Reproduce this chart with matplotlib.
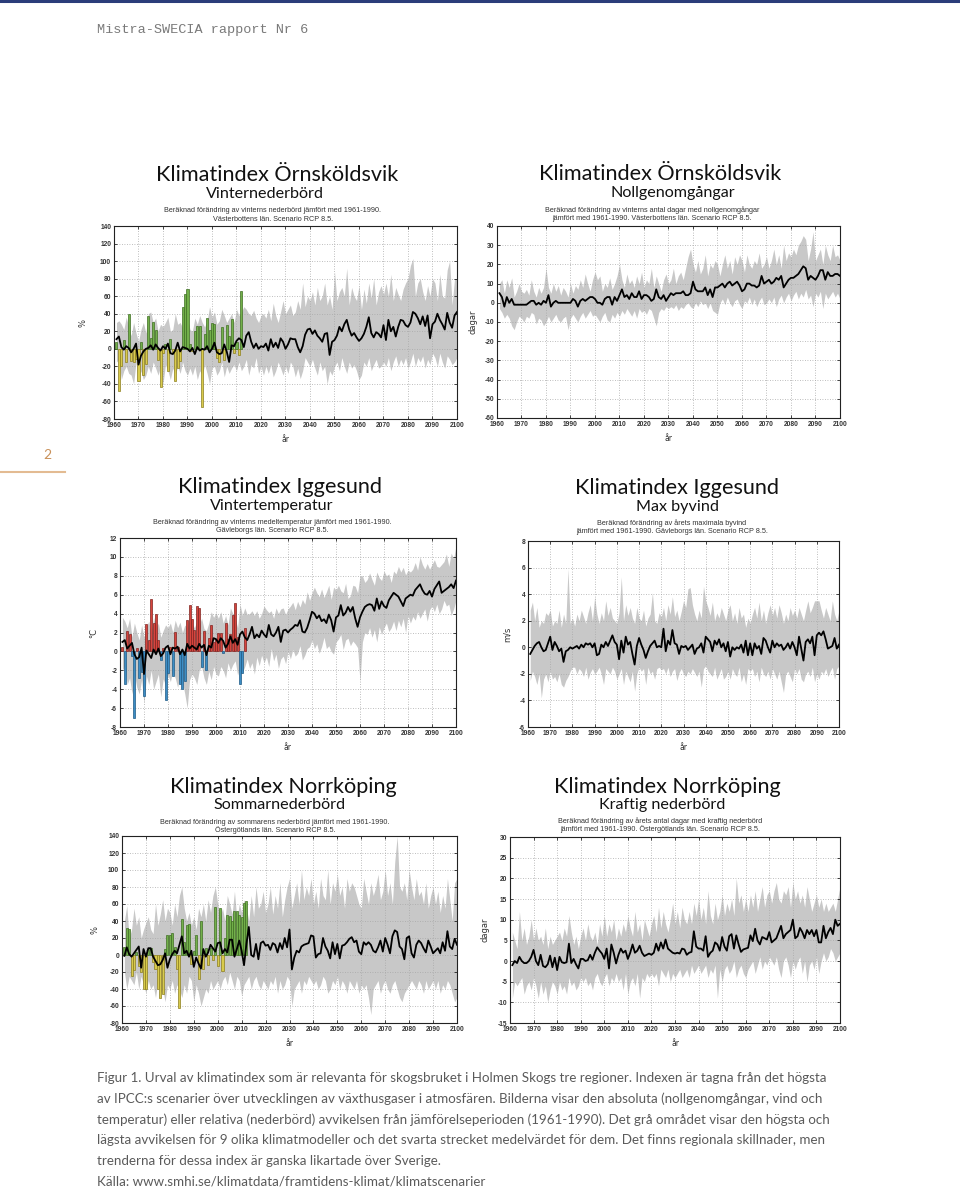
import numpy as np
import matplotlib
matplotlib.use("Agg")
import matplotlib.pyplot as plt

W, H = 960, 1190

# ---------------- DATA ----------------
years = list(range(1961, 2101))
obs_years = list(range(1961, 2013))
xticks = list(range(1960, 2101, 10))

# 1) Örnsköldsvik – Vinternederbörd (%)
orn_prec_mean = [11, 14, 2, -1, 3, 1, -4, 0, 6, -18,
                 -8, -3, 0, 1, 4, -1, 5, 1, -2, 3,
                 0, 6, -5, -6, -2, 7, -3, 2, 1, 0,
                 -3, 1, -6, 2, -2, 0, -1, 3, -4, 0,
                 7, -4, -6, -5, 5, -3, -15, 4, 3, 9,
                 12, 10, 2, 15, 19, 8, 1, 6, 0, 3,
                 2, 6, -2, 11, 2, 7, 1, 12, 8, 0,
                 5, 12, 11, 11, 2, -4, 3, 16, 22, 23,
                 17, 21, 15, 12, 8, 17, 18, -7, 8, 10,
                 15, 25, 20, 28, 33, 22, 15, 18, 13, 9,
                 12, 17, 25, 36, 18, 13, 19, 17, 13, 27,
                 10, 33, 20, 25, 14, 25, 33, 32, 27, 25,
                 30, 42, 40, 35, 28, 37, 26, 38, 12, 28,
                 31, 40, 33, 28, 22, 41, 30, 24, 38, 42]
orn_prec_max = [30, 32, 28, 22, 36, 25, 15, 30, 18, 8,
                22, 30, 18, 40, 42, 30, 35, 20, 28, 25,
                30, 36, 20, 22, 40, 28, 30, 24, 18, 35,
                22, 20, 35, 28, 38, 30, 25, 32, 48, 36,
                42, 28, 32, 45, 38, 30, 35, 40, 30, 45,
                38, 42, 48, 45, 40, 38, 44, 35, 30, 38,
                40, 35, 45, 32, 52, 38, 30, 42, 55, 40,
                45, 50, 38, 42, 55, 45, 75, 48, 60, 55,
                65, 50, 70, 55, 60, 75, 50, 60, 45, 88,
                55, 65, 70, 60, 92, 50, 70, 60, 55, 72,
                45, 68, 52, 75, 58, 80, 50, 65, 72, 62,
                75, 60, 85, 55, 70, 62, 55, 68, 75, 80,
                95, 103, 60, 75, 80, 65, 55, 72, 60, 80,
                75, 55, 85, 60, 58, 90, 100, 50, 80, 80]
orn_prec_min = [-15, -12, -35, -25, -20, -28, -30, -40, -15, -38,
                -25, -35, -30, -20, -28, -15, -22, -30, -20, -40,
                -18, -25, -35, -22, -30, -20, -28, -15, -25, -30,
                -22, -30, -20, -35, -25, -30, -18, -28, -40, -22,
                -20, -30, -25, -15, -32, -20, -28, -22, -18, -25,
                -15, -25, -20, -12, -30, -18, -22, -10, -28, -20,
                -30, -20, -28, -18, -32, -25, -15, -22, -30, -20,
                -28, -15, -20, -32, -22, -34, -25, -10, -15, -20,
                -12, -22, -30, -15, -25, -20, -40, -25, -30, -20,
                -15, -25, -10, -20, -28, -15, -22, -18, -25, -35,
                -30, -15, -20, -10, -25, -18, -12, -22, -20, -15,
                -20, -10, -25, -15, -8, -20, -12, -18, -10, -22,
                -15, -5, -20, -10, -15, -8, -22, -12, -18, -5,
                -10, -20, -5, -15, -22, -8, -12, -18, -15, -10]
orn_prec_obs = [8, -48, -20, 10, -15, 40, -14, -15, -12, -37,
                8, -30, -17, 37, 12, 31, 21, -13, -43, -5,
                5, -25, 11, -5, -37, -22, -14, 48, 62, 68,
                5, -3, 20, 26, 26, -66, 17, 35, 22, 30,
                28, -10, -15, 25, -13, 27, 15, 34, -5, 8,
                -7, 66]

# 2) Örnsköldsvik – Nollgenomgångar (dagar)
orn_zero_mean = [5, 3, -2, 3, 0, 2, -1, -1, -1, -1,
                 -1, -1, 0, 1, 1, -1, 0, -1, 1, 0,
                 4, -2, 0, 1, 0, 0, 0, 0, 0, 0,
                 2, 1, -2, 1, 2, 1, 2, 3, 3, 2,
                 0, 0, -1, 2, 3, 3, -1, 3, 1, 4,
                 7, 3, 4, 2, 5, 3, 3, 6, 2, 4,
                 4, 3, 1, 2, 7, 3, 2, 4, 1, 3,
                 5, 4, 5, 5, 5, 6, 4, 4, 5, 11,
                 7, 6, 6, 6, 8, 4, 7, 3, 8, 8,
                 9, 10, 8, 10, 11, 9, 10, 11, 9, 6,
                 7, 10, 10, 9, 9, 8, 9, 14, 10, 11,
                 12, 10, 11, 13, 12, 14, 8, 10, 12, 13,
                 13, 14, 15, 17, 19, 18, 12, 14, 13, 12,
                 14, 17, 17, 12, 16, 14, 14, 15, 15, 14]
orn_zero_max = [10, 12, 5, 12, 8, 13, 3, 6, 10, 6,
                5, 7, 4, 12, 6, 3, 8, 5, 8, 18,
                8, 5, 10, 6, 9, 4, 8, 6, 3, 10,
                5, 9, 7, 12, 8, 15, 10, 6, 12, 16,
                12, 14, 6, 10, 8, 13, 7, 10, 14, 20,
                12, 8, 15, 10, 12, 8, 14, 10, 16, 8,
                12, 10, 18, 8, 14, 10, 6, 12, 15, 10,
                12, 18, 10, 14, 16, 12, 18, 24, 28, 20,
                16, 22, 15, 18, 25, 14, 20, 18, 22, 20,
                14, 20, 25, 18, 22, 15, 24, 20, 25, 22,
                16, 25, 20, 18, 22, 20, 26, 18, 20, 24,
                18, 22, 28, 20, 25, 18, 30, 22, 26, 24,
                28, 25, 30, 32, 35, 33, 22, 28, 37, 22,
                25, 28, 20, 30, 25, 22, 30, 24, 25, 22]
orn_zero_min = [-3, -5, -8, -6, -8, -12, -14, -10, -7, -8,
                -10, -7, -8, -5, -6, -11, -8, -9, -12, -10,
                -7, -10, -8, -6, -9, -10, -8, -7, -14, -8,
                -6, -8, -10, -7, -5, -8, -6, -4, -7, -6,
                -8, -10, -7, -5, -9, -10, -6, -8, -5, -7,
                -4, -6, -3, -5, -7, -4, -8, -3, -5, -4,
                -6, -3, -4, -8, -12, -5, -3, -4, -2, -3,
                -2, -3, -1, -4, -2, -3, -1, 0, -2, -3,
                0, -2, 1, -1, 0, -3, 0, -4, -5, -6,
                0, 2, -1, 3, 0, -2, 1, 2, -1, -3,
                1, 0, 3, -1, 2, -2, 1, 3, -1, 0,
                2, 0, 3, -2, 2, 4, 0, 3, 5, 1,
                4, 6, 2, 5, 3, 7, 2, 4, -2, 5,
                3, 6, -3, 5, 2, 4, 6, 3, 5, 2]

# 3) Iggesund – Vintertemperatur (°C)
igg_temp_mean = [1.0, 1.2, 0.3, 0.6, 0.9, -0.3, -0.8, -0.6, 0.4, -2.4,
                 0.1, -0.3, -0.7, 0.2, -0.3, 0.3, -0.5, -0.2, 0.4, 0.6,
                 -0.3, 0.4, 0.3, 0.5, -0.3, 0.2, -0.4, 0.8, 0.3, 0.6,
                 0.4, 0.2, 0.8, 0.4, 0.7, -0.4, 0.6, 0.4, 1.4, 1.3,
                 0.9, 1.4, 1.1, 0.4, 0.8, 1.6, 0.9, 1.3, 0.7, 1.8,
                 2.1, 1.5, 1.2, 1.8, 2.6, 1.4, 1.8, 1.5, 2.2, 1.8,
                 1.5, 2.8, 1.8, 1.6, 2.0, 2.6, 1.0, 2.2, 2.3, 2.0,
                 2.3, 2.5, 2.8, 2.7, 3.3, 2.1, 2.0, 2.5, 3.3, 4.2,
                 4.0, 3.5, 3.8, 3.2, 3.4, 3.0, 3.9, 3.3, 2.1, 3.6,
                 3.8, 4.9, 3.8, 4.1, 4.7, 4.2, 4.7, 3.5, 2.6, 3.6,
                 4.2, 4.7, 4.9, 5.0, 4.9, 4.3, 5.6, 4.5, 5.3, 4.8,
                 4.6, 5.4, 5.8, 6.2, 6.0, 5.8, 5.3, 4.8, 5.6, 5.8,
                 6.0, 5.9, 6.5, 6.8, 7.1, 6.5, 6.1, 6.0, 6.4, 5.8,
                 6.6, 7.0, 7.4, 6.2, 6.4, 6.6, 6.8, 7.1, 6.7, 7.5]
igg_temp_max = [3.6, 3.2, 2.5, 3.5, 1.5, 3.0, 2.0, 1.2, 2.8, 1.5,
                2.6, 3.2, 1.8, 3.6, 2.4, 3.0, 1.5, 2.2, 2.8, 2.5,
                3.0, 2.0, 3.3, 2.5, 3.1, 2.0, 2.8, 2.4, 3.6, 3.0,
                2.5, 3.2, 2.8, 3.5, 2.4, 2.2, 3.0, 4.2, 3.6, 4.1,
                3.5, 4.2, 3.0, 3.8, 2.8, 4.6, 4.0, 3.5, 2.5, 5.0,
                3.8, 4.6, 3.9, 4.0, 4.3, 3.8, 4.3, 3.5, 4.0, 4.8,
                4.4, 4.1, 4.3, 3.5, 4.6, 4.0, 4.5, 4.6, 3.9, 4.5,
                4.8, 5.2, 4.4, 5.3, 4.7, 5.5, 5.0, 6.3, 5.4, 6.2,
                6.8, 6.2, 5.8, 6.6, 5.7, 6.3, 7.0, 5.5, 6.8, 6.5,
                7.0, 6.4, 6.2, 7.2, 5.6, 5.9, 7.0, 6.9, 6.2, 8.0,
                8.0, 7.3, 7.6, 8.3, 7.6, 7.0, 8.4, 7.8, 7.5, 8.5,
                8.0, 8.2, 7.3, 8.5, 8.2, 9.0, 8.4, 8.9, 8.1, 8.6,
                8.4, 8.7, 9.4, 8.6, 10.0, 9.2, 8.7, 9.3, 8.7, 9.2,
                9.7, 9.0, 8.9, 9.2, 9.5, 10.3, 9.0, 10.4, 9.8, 11.2]
igg_temp_min = [-2.0, -1.5, -3.5, -2.8, -4.5, -2.4, -3.8, -4.5, -3.0, -5.5,
                -2.6, -3.5, -2.0, -4.0, -3.2, -2.4, -4.8, -2.9, -3.6, -2.5,
                -3.2, -2.0, -2.8, -3.8, -2.5, -3.2, -4.5, -6.0, -3.0, -2.4,
                -2.8, -3.5, -2.0, -1.6, -2.8, -3.5, -2.1, -3.0, -1.6, -2.4,
                -2.6, -1.6, -2.0, -2.8, -1.2, -2.0, -1.4, -1.0, -2.5, -1.7,
                -2.2, -1.6, -0.8, -1.8, -1.2, -2.4, -0.6, -1.5, -0.4, -1.2,
                -0.6, -1.6, 0.3, -1.0, -0.3, -1.8, -0.8, -0.5, -1.3, 0.0,
                -0.8, 0.2, -0.5, -0.2, 0.6, -0.9, -0.4, 0.3, 0.5, 1.2,
                0.3, 0.8, -0.2, 0.5, 1.5, 0.3, 0.6, 0.0, -0.3, 1.0,
                1.3, 1.8, 0.2, 1.2, 1.4, 0.6, 1.1, 0.8, 0.4, -3.2,
                1.0, 2.0, 1.8, 2.5, 1.5, 2.3, 1.0, 2.6, 1.8, 2.5,
                3.0, 2.1, 2.5, 3.2, 2.2, 3.3, 2.6, 3.5, 2.0, 3.8,
                3.0, 3.7, 3.3, 4.2, 3.5, 4.0, 4.5, 3.2, 4.4, 4.8,
                4.2, 5.0, 4.0, 4.5, 5.4, 4.8, 5.0, 3.8, 4.5, 5.4]
igg_temp_obs = [0.5, -3.4, 2.2, 1.8, -0.5, -7.0, 0.4, -2.8, -2.2, -4.7,
                2.9, 1.2, 5.5, 3.0, 4.0, 1.2, -0.9, 0.4, -5.1, -2.3,
                0.5, -2.6, 2.1, 0.5, -3.4, -4.0, -3.1, 3.3, 4.9, 3.4,
                2.3, 4.8, 4.6, -1.7, 2.2, -2.0, 1.4, 2.8, 1.0, 1.3,
                2.0, 1.9, -0.2, 3.0, 1.3, 1.8, 3.8, 5.1, 1.5, -3.4,
                -2.3, 2.5]

# 4) Iggesund – Max byvind (m/s)
igg_wind_mean = [-0.5, -0.2, 0.1, 0.3, 0.4, 0.0, -0.3, -0.2, 0.3, 0.8,
                 -0.2, 0.4, 0.1, -0.3, -0.1, -1.1, -0.3, -0.2, 0.0, -0.1,
                 0.0, 0.1, -0.1, 0.2, 0.0, 0.3, 0.2, 0.3, 0.0, 0.3,
                 -0.6, -0.5, 0.2, 0.0, 0.4, 0.1, 0.5, 0.9, 0.4, 0.2,
                 -0.9, 0.5, -0.4, 0.8, 0.2, 0.4, -0.5, -1.3, 0.1, 0.7,
                 0.2, -0.2, -0.8, -0.3, 0.1, 0.3, 0.5, 0.0, 0.1, 0.0,
                 1.4, -0.3, 0.5, 0.2, 1.3, 0.3, 0.2, -0.5, 0.1, 0.0,
                 0.1, -0.2, 0.0, 0.2, -0.5, -0.1, 0.0, 0.3, -0.4, 0.8,
                 0.6, 0.4, -0.3, 0.5, 0.2, 0.6, 0.0, 0.3, -0.3, 0.4,
                 -0.7, 0.0, -0.2, 0.0, -0.1, 0.2, -0.4, 0.5, -0.6, 0.3,
                 -0.6, 0.3, -0.1, 0.1, -0.5, 0.7, 0.5, 0.0, -0.4, 0.5,
                 0.0, 0.3, 0.1, 0.2, -0.2, 0.0, 0.3, -0.1, 0.4, 0.0,
                 -0.6, 0.8, -0.1, -1.0, 0.4, 0.6, 0.3, 0.8, -0.6, 0.9,
                 1.1, 0.9, 1.2, 0.6, -0.1, 0.0, 0.1, 0.7, -0.1, 0.2]
igg_wind_max = [2.8, 3.4, 2.0, 3.0, 1.5, 2.0, 1.8, 2.6, 2.4, 2.8,
                1.6, 2.0, 1.8, 2.8, 1.5, 2.5, 1.8, 5.9, 1.8, 2.2,
                1.6, 2.5, 2.0, 2.8, 2.3, 1.8, 2.6, 3.2, 2.0, 3.8,
                2.5, 1.8, 2.6, 2.0, 3.5, 2.4, 3.0, 2.2, 2.0, 1.8,
                2.6, 5.3, 2.0, 3.2, 2.4, 3.0, 2.2, 1.8, 3.0, 2.2,
                2.0, 2.8, 1.6, 2.2, 2.5, 4.1, 2.0, 1.8, 2.6, 2.3,
                3.0, 2.0, 3.2, 2.5, 3.8, 2.3, 2.8, 2.0, 2.7, 3.5,
                3.0, 4.4, 4.5, 3.2, 2.5, 2.0, 2.8, 2.2, 4.6, 3.5,
                3.0, 2.4, 3.4, 2.0, 2.6, 2.2, 3.0, 2.5, 2.0, 2.8,
                3.2, 2.0, 2.6, 1.8, 3.0, 2.2, 2.5, 1.5, 2.2, 1.8,
                2.5, 3.0, 2.2, 3.4, 2.0, 2.8, 1.8, 2.6, 3.2, 2.4,
                3.0, 2.2, 3.2, 2.6, 1.8, 2.5, 2.0, 3.0, 2.4, 2.8,
                2.2, 3.0, 2.5, 2.0, 2.8, 3.5, 2.6, 3.0, 3.5, 3.5,
                3.5, 2.8, 2.2, 3.0, 2.5, 2.0, 3.5, 2.5, 2.0, 2.8]
igg_wind_min = [-2.5, -1.8, -2.2, -2.8, -2.0, -3.8, -2.4, -2.0, -2.6, -1.8,
                -2.4, -2.2, -2.6, -2.0, -2.8, -3.0, -2.5, -2.2, -1.8, -1.5,
                -1.5, -2.0, -1.6, -1.8, -2.2, -1.5, -2.4, -1.9, -1.6, -2.0,
                -1.8, -1.5, -2.0, -2.8, -1.6, -1.8, -2.0, -1.5, -1.8, -2.4,
                -2.0, -1.6, -2.8, -1.8, -2.2, -2.6, -1.8, -3.3, -2.0, -1.5,
                -1.8, -1.6, -2.8, -1.5, -2.0, -1.8, -2.4, -1.6, -1.5, -1.7,
                -1.6, -2.0, -1.5, -2.2, -1.8, -1.6, -2.5, -1.9, -1.6, -2.0,
                -2.2, -1.8, -2.0, -1.6, -1.9, -2.2, -1.8, -3.0, -1.6, -1.4,
                -1.8, -2.0, -2.2, -1.5, -2.4, -2.0, -1.6, -2.4, -2.2, -1.8,
                -2.4, -1.6, -2.0, -2.2, -1.5, -2.6, -2.0, -2.8, -1.6, -1.8,
                -1.6, -2.2, -1.8, -2.6, -1.5, -2.0, -2.2, -1.8, -2.4, -1.6,
                -2.0, -2.4, -1.8, -2.6, -3.4, -2.0, -1.8, -2.2, -2.6, -1.6,
                -2.0, -1.6, -2.4, -2.6, -2.0, -1.8, -2.2, -1.5, -2.6, -2.0,
                -2.4, -1.8, -2.0, -1.6, -2.2, -1.8, -1.5, -2.4, -1.6, -1.4]

# 5) Norrköping – Sommarnederbörd (%)
nor_prec_mean = [-1, 9, 1, -2, 2, 6, 10, -15, 7, -2,
                 8, 8, -2, -7, -12, -11, -6, 2, -15, -5,
                 1, 5, 2, 12, 22, 2, 5, -2, 5, -14,
                 -3, -10, -16, 7, -2, 3, 12, 8, 4, 14,
                 15, 2, 7, 3, 18, 18, -2, 7, 17, 5,
                 -12, 13, 33, 0, -2, 13, -5, 14, 16, 11,
                 12, 6, 14, 12, 3, 14, 7, 20, 9, 30,
                 -17, -3, 5, 3, 10, 12, 13, 14, 23, 22,
                 -3, 1, 2, 20, 10, 5, -4, 15, 1, 13,
                 -4, 11, 12, 15, 19, 21, 15, 17, 4, 1,
                 15, 12, 15, 12, 5, 3, 9, 17, 4, 20,
                 12, 2, 22, 29, 27, 10, 7, -5, 20, 22,
                 2, -3, 12, 17, 14, 8, 3, 17, 10, 2,
                 5, 8, 2, 15, 5, 28, 10, 7, 19, 12]
nor_prec_max = [40, 58, 20, 30, 55, 35, 45, 20, 30, 38,
                45, 30, 25, 60, 35, 48, 65, 40, 55, 50,
                35, 60, 45, 70, 80, 55, 40, 50, 35, 45,
                30, 55, 45, 60, 40, 65, 50, 70, 80, 60,
                45, 55, 40, 70, 60, 48, 75, 42, 60, 50,
                65, 55, 40, 70, 45, 80, 55, 60, 75, 50,
                60, 80, 48, 70, 55, 85, 45, 65, 80, 90,
                55, 70, 85, 60, 100, 65, 80, 70, 90, 60,
                75, 55, 90, 70, 65, 100, 60, 85, 75, 95,
                70, 80, 55, 90, 75, 85, 80, 70, 60, 55,
                90, 75, 60, 85, 70, 80, 95, 65, 75, 100,
                70, 85, 60, 110, 140, 80, 75, 85, 65, 100,
                80, 65, 90, 70, 75, 60, 85, 55, 70, 80,
                60, 75, 50, 70, 55, 90, 65, 40, 85, 90]
nor_prec_min = [-20, -40, -25, -30, -35, -20, -40, -25, -35, -45,
                -30, -40, -35, -50, -30, -45, -40, -55, -35, -40,
                -30, -45, -35, -40, -50, -35, -45, -25, -30, -55,
                -35, -45, -60, -50, -40, -45, -30, -40, -35, -30,
                -40, -30, -25, -35, -20, -30, -40, -25, -30, -48,
                -35, -30, -25, -40, -30, -25, -35, -40, -30, -35,
                -40, -30, -35, -25, -45, -30, -40, -35, -25, -30,
                -60, -40, -35, -30, -45, -30, -35, -25, -30, -35,
                -30, -40, -35, -25, -30, -45, -40, -30, -35, -25,
                -40, -30, -35, -45, -30, -35, -40, -30, -45, -35,
                -40, -35, -50, -70, -40, -35, -30, -45, -35, -30,
                -40, -45, -35, -30, -40, -50, -55, -45, -40, -35,
                -30, -35, -40, -30, -35, -45, -30, -40, -35, -30,
                -40, -30, -45, -35, -40, -30, -35, -45, -55, -50]
nor_prec_obs = [10, 32, 31, -25, -18, 3, -13, -20, -40, -40,
                7, 8, -8, -17, -40, -50, -46, 7, 24, 23,
                26, 10, -17, -62, 42, 15, 35, 36, -10, 5,
                23, -28, 40, -16, 8, -12, 8, -6, 56, -13,
                55, -19, 20, 47, 46, 40, 52, 52, 47, 45,
                61, 64]

# 6) Norrköping – Kraftig nederbörd (dagar)
nor_heavy_mean = [-1, 0, -0.5, 1, 0, -0.5, -0.5, 0, 1, 2.7,
                  0, -1, 1.5, -1.2, -1.5, -0.8, 1.3, -1.5, 0.8, -2.2,
                  1.0, -0.3, -0.5, -0.3, 4.2, -0.5, 0.5, -0.8, -1.8, 0.5,
                  0.5, 0, 0.2, 1.5, 0.3, 2.0, 3.3, 2.5, 1.8, 0.5,
                  3.0, -1.8, 4.0, 2.0, -0.6, 1.5, 3.0, 2.0, 2.5, 0.5,
                  2.0, 4.0, 2.0, 2.5, 3.7, 2.0, 1.2, 1.5, 1.8, 1.5,
                  2.0, 4.2, 2.5, 4.5, 3.0, 5.2, 3.0, 2.5, 2.0, 1.8,
                  2.0, 1.8, 3.0, 2.8, 1.5, 2.0, 2.2, 7.2, 3.5, 3.0,
                  3.0, 2.5, 6.0, 1.0, 2.0, 2.5, 4.5, 4.0, 2.5, 5.8,
                  3.5, 2.5, 6.0, 6.5, 3.0, 6.2, 4.0, 2.2, 2.8, 3.0,
                  3.2, 6.2, 4.8, 7.8, 5.0, 4.0, 5.8, 5.5, 5.2, 7.0,
                  4.5, 5.0, 5.5, 7.0, 8.5, 5.5, 6.5, 7.0, 7.5, 10.0,
                  5.5, 6.0, 8.0, 7.0, 5.5, 7.5, 6.5, 7.5, 6.0, 7.5,
                  4.5, 4.5, 8.5, 5.5, 7.0, 8.0, 6.5, 10.0, 8.5, 9.0]
nor_heavy_max = [7, 5, 3, 12, 5, 8, 4, 6, 10, 5,
                 8, 5, 6, 4, 8, 3, 6, 4, 5, 6,
                 7, 5, 8, 6, 11, 7, 4, 6, 3, 6,
                 8, 5, 9, 6, 5, 7, 4, 9, 6, 11,
                 6, 9, 7, 10, 5, 8, 6, 9, 7, 11,
                 8, 6, 12, 7, 9, 5, 10, 8, 6, 9,
                 11, 7, 13, 8, 12, 9, 7, 10, 14, 9,
                 12, 8, 13, 10, 9, 12, 9, 14, 11, 15,
                 10, 13, 9, 17, 11, 9, 14, 10, 12, 16,
                 11, 14, 12, 15, 11, 20, 14, 16, 12, 15,
                 12, 16, 13, 17, 12, 15, 18, 13, 16, 17,
                 14, 17, 19, 15, 14, 17, 16, 18, 13, 19,
                 15, 17, 14, 16, 13, 18, 15, 12, 14, 16,
                 13, 15, 12, 14, 12, 13, 14, 12, 15, 18]
nor_heavy_min = [-9, -5, -6, -5, -4, -8, -6, -5, -7, -4,
                 -6, -9, -5, -8, -6, -10, -7, -5, -6, -8,
                 -5, -7, -6, -8, -4, -6, -5, -7, -6, -4,
                 -5, -4, -6, -5, -7, -4, -3, -5, -6, -4,
                 -3, -6, -4, -5, -3, -5, -4, -7, -3, -8,
                 -5, -4, -6, -3, -9, -4, -5, -3, -4, -3,
                 -4, -3, -6, -2, -3, -4, -2, -5, -3, -4,
                 -3, -2, -4, -3, -2, -4, -1, -3, -2, -1,
                 -3, -2, -1, -4, -2, -3, -1, -9, -2, -5,
                 -2, -1, -3, -2, 0, -4, -2, -1, -3, -4,
                 -2, -1, 0, -3, -1, 1, -2, 0, -1, 1,
                 0, -1, 1, -2, -4, 0, 1, -1, -4, 0,
                 -2, 0, 1, -3, 0, -5, -1, 0, -2, 1,
                 -3, 0, 2, 0, 1, 3, 2, 0, 1, 2]

# ---------------- FIGURE ----------------
fig = plt.figure(figsize=(W / 100, H / 100), dpi=100)
fig.patch.set_facecolor("white")

TITLE_FONT = ["Lato", "DejaVu Sans"]
SMALL_FONT = ["Liberation Sans", "DejaVu Sans"]


def fx(x):
    return x / W


def fy(y):
    return 1 - y / H


def text_px(x, y, s, **kw):
    fig.text(fx(x), fy(y), s, **kw)


def make_chart(box, ylim, ystep, ylabel, ylabel_x, mean, lo, hi, titles,
               obs=None, colors=None):
    l, r, t, b = box
    ax = fig.add_axes([fx(l), fy(b), (r - l) / W, (b - t) / H])
    ax.fill_between(years, lo, hi, color="#c8c8c8", lw=0, zorder=1)
    if obs is not None:
        pos_c, pos_e, neg_c, neg_e = colors
        fc = [pos_c if v >= 0 else neg_c for v in obs]
        ec = [pos_e if v >= 0 else neg_e for v in obs]
        ax.bar(obs_years, obs, width=0.85, color=fc, edgecolor=ec,
               linewidth=0.5, zorder=2)
    ax.plot(years, mean, color="black", lw=1.3, zorder=3)
    ax.set_xlim(1960, 2100)
    ax.set_ylim(*ylim)
    ax.set_xticks(xticks)
    yt = np.arange(ylim[0], ylim[1] + ystep / 2, ystep)
    ax.set_yticks(yt)
    ax.set_yticklabels([f"{v:g}" for v in yt])
    ax.grid(True, linestyle=(0, (1, 2)), color="#a8a8a8", lw=0.6)
    for sp in ax.spines.values():
        sp.set_color("#222222")
        sp.set_linewidth(0.8)
    ax.tick_params(axis="both", labelsize=4.8, length=2, width=0.5,
                   direction="in", top=True, right=True, pad=2)
    for lab in ax.get_xticklabels() + ax.get_yticklabels():
        lab.set_fontweight("bold")
        lab.set_color("#333333")
        lab.set_family(SMALL_FONT)
    ax.set_xlabel("år", fontsize=5.5, color="#333333")
    ax.xaxis.set_label_coords(0.5, -(16.0 / (b - t)), transform=ax.transAxes)
    ax.set_ylabel(ylabel, fontsize=6, color="#333333")
    ax.yaxis.set_label_coords((ylabel_x - l) / (r - l), 0.5,
                              transform=ax.transAxes)
    text_px(titles["tx"], titles["ty"], titles["title"], ha="center",
            va="center", fontsize=15.6, family=TITLE_FONT, color="#111111")
    text_px(titles["sx"], titles["sy"], titles["sub"], ha="center",
            va="center", fontsize=11.6, family=TITLE_FONT, color="#111111")
    cx = titles["cx"]
    text_px(cx, titles["d1y"], titles["d1"], ha="center", va="center",
            fontsize=5.2, family=SMALL_FONT, color="#333333")
    text_px(cx, titles["d1y"] + 8.5, titles["d2"], ha="center", va="center",
            fontsize=5.2, family=SMALL_FONT, color="#333333")
    return ax


GREEN = ("#72b04a", "#3f6e22", "#d8cb4c", "#8c7e1e")
REDBLUE = ("#d6443d", "#7f2320", "#3c8dc5", "#1f5a85")

make_chart((114, 457, 226, 419), (-80, 140), 20, "%", 88,
           orn_prec_mean, orn_prec_min, orn_prec_max,
           dict(title="Klimatindex Örnsköldsvik", tx=277, ty=175,
                sub="Vinternederbörd", sx=265, sy=194, cx=273, d1y=211,
                d1="Beräknad förändring av vinterns nederbörd jämfört med 1961-1990.",
                d2="Västerbottens län. Scenario RCP 8.5."),
           obs=orn_prec_obs, colors=GREEN)

make_chart((497, 840, 226, 418), (-60, 40), 10, "dagar", 477,
           orn_zero_mean, orn_zero_min, orn_zero_max,
           dict(title="Klimatindex Örnsköldsvik", tx=660, ty=174,
                sub="Nollgenomgångar", sx=673, sy=193, cx=652, d1y=210,
                d1="Beräknad förändring av vinterns antal dagar med nollgenomgångar",
                d2="jämfört med 1961-1990. Västerbottens län. Scenario RCP 8.5."))

make_chart((120, 456, 538, 727), (-8, 12), 2, "°C", 98,
           igg_temp_mean, igg_temp_min, igg_temp_max,
           dict(title="Klimatindex Iggesund", tx=280, ty=487,
                sub="Vintertemperatur", sx=272, sy=506, cx=272, d1y=522,
                d1="Beräknad förändring av vinterns medeltemperatur jämfört med 1961-1990.",
                d2="Gävleborgs län. Scenario RCP 8.5."),
           obs=igg_temp_obs, colors=REDBLUE)

make_chart((528, 839, 541, 727), (-6, 8), 2, "m/s", 512,
           igg_wind_mean, igg_wind_min, igg_wind_max,
           dict(title="Klimatindex Iggesund", tx=677, ty=488,
                sub="Max byvind", sx=677, sy=507, cx=672, d1y=523,
                d1="Beräknad förändring av årets maximala byvind",
                d2="jämfört med 1961-1990. Gävleborgs län. Scenario RCP 8.5."))

make_chart((122, 457, 836, 1023), (-80, 140), 20, "%", 100,
           nor_prec_mean, nor_prec_min, nor_prec_max,
           dict(title="Klimatindex Norrköping", tx=283, ty=787,
                sub="Sommarnederbörd", sx=280, sy=805, cx=275, d1y=822,
                d1="Beräknad förändring av sommarens nederbörd jämfört med 1961-1990.",
                d2="Östergötlands län. Scenario RCP 8.5."),
           obs=nor_prec_obs, colors=GREEN)

make_chart((510, 840, 837, 1023), (-15, 30), 5, "dagar", 490,
           nor_heavy_mean, nor_heavy_min, nor_heavy_max,
           dict(title="Klimatindex Norrköping", tx=667, ty=787,
                sub="Kraftig nederbörd", sx=662, sy=805, cx=660, d1y=821,
                d1="Beräknad förändring av årets antal dagar med kraftig nederbörd",
                d2="jämfört med 1961-1990. Östergötlands län. Scenario RCP 8.5."))

# ---------------- PAGE ELEMENTS ----------------
fig.add_artist(plt.Line2D([0, 1], [fy(1), fy(1)], color="#2b3d7a", lw=2.2,
                          transform=fig.transFigure))
text_px(97, 30, "Mistra-SWECIA rapport Nr 6", ha="left", va="center",
        fontsize=9.7, family=["Liberation Mono", "DejaVu Sans Mono"],
        color="#7a7a7a")
text_px(47, 455, "2", ha="center", va="center", fontsize=10,
        family=TITLE_FONT, color="#c9915a")
fig.add_artist(plt.Line2D([0, fx(65)], [fy(472), fy(472)], color="#e3bb92",
                          lw=1.5, transform=fig.transFigure))

caption = [
    "Figur 1. Urval av klimatindex som är relevanta för skogsbruket i Holmen Skogs tre regioner. Indexen är tagna från det högsta",
    "av IPCC:s scenarier över utvecklingen av växthusgaser i atmosfären. Bilderna visar den absoluta (nollgenomgångar, vind och",
    "temperatur) eller relativa (nederbörd) avvikelsen från jämförelseperioden (1961-1990). Det grå området visar den högsta och",
    "lägsta avvikelsen för 9 olika klimatmodeller och det svarta strecket medelvärdet för dem. Det finns regionala skillnader, men",
    "trenderna för dessa index är ganska likartade över Sverige.",
    "Källa: www.smhi.se/klimatdata/framtidens-klimat/klimatscenarier",
]
for i, line in enumerate(caption):
    text_px(97, 1078 + i * 20.8, line, ha="left", va="center", fontsize=9.6,
            family=["Lato", "DejaVu Sans"], color="#5a5a5a")

fig.savefig("out.png", dpi=100, facecolor="white")
